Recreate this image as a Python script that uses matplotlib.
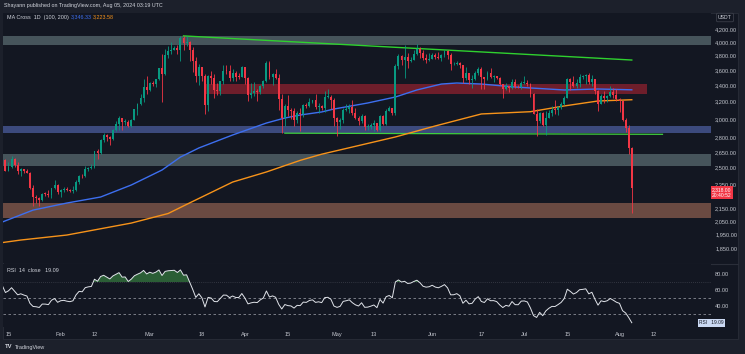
import numpy as np
import pandas as pd
import matplotlib
matplotlib.use("Agg")
import matplotlib.pyplot as plt
from matplotlib.patches import Rectangle
from matplotlib.lines import Line2D
from matplotlib.ticker import FixedLocator, FixedFormatter, NullLocator
from matplotlib.transforms import blended_transform_factory

plt.rcParams['font.family'] = ['Liberation Sans', 'DejaVu Sans']

# ---------------- data (ETH/USDT daily) ----------------
START = '2024-01-13'
warmup_closes = [2315, 2220, 2228, 2197, 2218, 2177, 2201, 2240, 2326, 2317, 2272, 2267,
                 2232, 2379, 2346, 2300, 2293, 2281, 2352, 2355, 2210, 2268, 2269, 2240,
                 2222, 2330, 2344, 2585, 2618, 2524]

closes = [
    # Jan 13-31
    2577, 2472, 2511, 2587, 2529, 2468, 2490, 2469, 2453, 2314, 2242, 2235, 2218, 2268, 2267, 2257, 2318, 2343, 2282,
    # Feb
    2304, 2309, 2297, 2290, 2300, 2373, 2425, 2420, 2486, 2500, 2507, 2660, 2640, 2778, 2822, 2803, 2785, 2880, 2945,
    3014, 2966, 2972, 2923, 2992, 3112, 3177, 3243, 3384, 3340,
    # Mar
    3434, 3420, 3487, 3628, 3552, 3817, 3868, 3890, 3908, 3877, 4066, 3983, 4006, 3883, 3733, 3524, 3644, 3520, 3160,
    3518, 3492, 3338, 3330, 3452, 3592, 3588, 3500, 3561, 3512, 3508, 3648,
    # Apr
    3503, 3279, 3311, 3330, 3318, 3395, 3452, 3697, 3505, 3546, 3502, 3235, 3006, 3153, 3101, 3086, 2985, 3066, 3054,
    3157, 3147, 3201, 3219, 3140, 3155, 3130, 3255, 3263, 3215, 3014,
    # May
    2969, 2990, 3102, 3117, 3137, 3064, 3006, 2974, 3036, 2910, 2913, 2930, 2950, 2882, 3036, 2946, 3093, 3122, 3071,
    3662, 3790, 3738, 3779, 3728, 3747, 3826, 3893, 3842, 3766, 3746, 3761,
    # Jun
    3814, 3780, 3767, 3810, 3866, 3812, 3678, 3680, 3705, 3666, 3498, 3561, 3469, 3480, 3566, 3620, 3508, 3482, 3559,
    3515, 3517, 3496, 3420, 3355, 3390, 3371, 3447, 3379, 3377, 3435,
    # Jul
    3438, 3419, 3294, 3058, 2982, 3064, 2931, 3016, 3067, 3103, 3100, 3135, 3175, 3250, 3490, 3444, 3388, 3428, 3509,
    3518, 3534, 3442, 3481, 3335, 3175, 3274, 3250, 3270, 3320, 3279, 3232,
    # Aug 1-5
    3205, 2988, 2902, 2688, 2318]

highs = [
    2615, 2585, 2550, 2615, 2590, 2555, 2495, 2490, 2485, 2465, 2345, 2260, 2245, 2275, 2280, 2300, 2320, 2390, 2350,
    2310, 2330, 2325, 2310, 2335, 2390, 2430, 2445, 2520, 2510, 2535, 2665, 2685, 2785, 2850, 2835, 2815, 2890, 2980,
    3030, 3015, 3000, 2990, 3005, 3115, 3185, 3290, 3485, 3520,
    3450, 3455, 3490, 3635, 3825, 3900, 3940, 3995, 3945, 3960, 4090, 4093, 4085, 4010, 3930, 3785, 3680, 3615, 3545,
    3530, 3590, 3545, 3435, 3460, 3665, 3675, 3665, 3610, 3595, 3565, 3655,
    3650, 3510, 3435, 3445, 3350, 3405, 3465, 3730, 3720, 3560, 3615, 3550, 3290, 3170, 3280, 3125, 3125, 3095, 3125,
    3170, 3185, 3240, 3225, 3290, 3185, 3165, 3325, 3355, 3280, 3250,
    3020, 3015, 3125, 3170, 3170, 3220, 3130, 3035, 3055, 3050, 2940, 2955, 2990, 2960, 3040, 3040, 3120, 3145, 3130,
    3690, 3830, 3815, 3950, 3835, 3780, 3885, 3975, 3925, 3880, 3825, 3845,
    3835, 3840, 3850, 3830, 3885, 3880, 3840, 3715, 3720, 3715, 3675, 3650, 3565, 3530, 3585, 3650, 3645, 3515, 3585,
    3630, 3535, 3525, 3515, 3425, 3430, 3395, 3480, 3490, 3405, 3455,
    3525, 3465, 3430, 3310, 3115, 3085, 3080, 3090, 3105, 3155, 3220, 3150, 3200, 3270, 3500, 3500, 3520, 3490, 3545,
    3535, 3545, 3560, 3540, 3490, 3340, 3290, 3330, 3280, 3400, 3370, 3350,
    3250, 3220, 3015, 2935, 2700]

lows = [
    2505, 2470, 2470, 2495, 2510, 2440, 2420, 2455, 2450, 2305, 2165, 2195, 2170, 2210, 2250, 2245, 2230, 2310, 2265,
    2245, 2285, 2290, 2280, 2275, 2295, 2355, 2405, 2415, 2470, 2490, 2495, 2585, 2635, 2755, 2765, 2725, 2770, 2870,
    2880, 2880, 2935, 2910, 2915, 2985, 3050, 3165, 3200, 3300,
    3330, 3395, 3380, 3470, 3200, 3540, 3765, 3830, 3880, 3830, 3725, 3880, 3940, 3720, 3570, 3440, 3410, 3460, 3060,
    3095, 3420, 3250, 3285, 3285, 3420, 3550, 3460, 3460, 3455, 3490, 3505,
    3420, 3210, 3245, 3275, 3210, 3300, 3370, 3450, 3480, 3410, 3480, 3100, 2850, 2925, 3030, 2995, 2920, 2955, 2870,
    3025, 3125, 3135, 3180, 3120, 3070, 3100, 3075, 3245, 3115, 2920,
    2815, 2890, 2960, 3095, 3070, 3045, 3000, 2935, 2955, 2880, 2880, 2895, 2870, 2865, 2865, 2930, 2930, 3090, 3050,
    3045, 3620, 3665, 3500, 3630, 3710, 3740, 3815, 3770, 3740, 3700, 3720,
    3750, 3755, 3755, 3730, 3780, 3760, 3600, 3665, 3670, 3630, 3430, 3465, 3425, 3365, 3475, 3535, 3360, 3360, 3470,
    3495, 3445, 3480, 3410, 3240, 3345, 3315, 3355, 3370, 3370, 3360,
    3425, 3400, 3260, 3055, 2810, 2960, 2925, 2825, 3010, 3035, 3055, 3050, 3120, 3160, 3240, 3345, 3380, 3370, 3375,
    3480, 3420, 3420, 3390, 3300, 3090, 3170, 3190, 3200, 3260, 3250, 3210,
    3085, 2975, 2860, 2630, 2111]

ma100_dates = ['2024-01-13', '2024-01-23', '2024-02-03', '2024-02-14', '2024-02-24', '2024-03-05', '2024-03-11',
               '2024-03-17', '2024-03-28', '2024-04-08', '2024-04-14', '2024-04-19', '2024-04-26', '2024-04-30',
               '2024-05-11', '2024-05-20', '2024-05-27', '2024-06-04', '2024-06-09', '2024-06-17', '2024-06-28',
               '2024-07-03', '2024-07-14', '2024-07-25', '2024-08-05']
ma100_vals = [2041, 2134, 2191, 2241, 2344, 2479, 2602, 2692, 2826, 2955, 3011, 3045, 3080, 3114,
              3185, 3257, 3344, 3419, 3432, 3419, 3381, 3369, 3344, 3356, 3346]

ma200_dates = ['2024-01-13', '2024-01-19', '2024-02-03', '2024-02-24', '2024-03-07', '2024-03-14', '2024-03-28',
               '2024-04-08', '2024-04-19', '2024-04-26', '2024-05-20', '2024-06-02', '2024-06-17', '2024-07-03',
               '2024-07-14', '2024-07-25', '2024-08-05']
ma200_vals = [1890, 1908, 1944, 2033, 2107, 2192, 2370, 2461, 2570, 2630, 2805, 2923, 3057, 3083,
              3150, 3209, 3224]

# support / resistance zones (price ranges)
zone_top = (3955, 4093)
zone_supply = (3294, 3420)
zone_supply_dates = ('2024-03-19', '2024-08-10')
zone_blue = (2846, 2922)
zone_gray = (2516, 2631)
zone_brown = (2071, 2191)
trend_upper_dates = ['2024-03-12', '2024-08-05']
trend_upper_prices = [4093, 3740]
support_dates = ['2024-04-14', '2024-08-15']
support_prices = [2845, 2833]

price_ticks = [4200, 4000, 3800, 3600, 3400, 3200, 3000, 2800, 2650, 2500, 2350, 2150, 2050, 1950, 1850, 1750]
time_tick_dates = ['2024-01-15', '2024-02-01', '2024-02-12', '2024-03-01', '2024-03-18', '2024-04-01',
                   '2024-04-15', '2024-05-01', '2024-05-13', '2024-06-01', '2024-06-17', '2024-07-01',
                   '2024-07-15', '2024-08-01', '2024-08-12']
time_tick_labels = ['15', 'Feb', '12', 'Mar', '18', 'Apr', '15', 'May', '13', 'Jun', '17', 'Jul', '15', 'Aug', '12']

# ---------------- helpers ----------------
BASE = pd.Timestamp('2024-01-15')


def day(d):
    return (pd.Timestamp(d) - BASE) / pd.Timedelta(days=1)


W, H = 745, 354
BG = '#131722'
TXT = '#c3c6ce'
GREEN = '#089981'
RED = '#f23645'


def fx(x):
    return x / W


def fy(y):
    return 1 - y / H


fig = plt.figure(figsize=(W / 100, H / 100), dpi=100, facecolor='#1c202b')
fig.patches.append(Rectangle((fx(3), fy(339)), fx(735), (339 - 13) / H, transform=fig.transFigure,
                             facecolor=BG, edgecolor='#2a2e39', lw=0.6, zorder=-10))

ax = fig.add_axes([fx(3), fy(263), fx(708), (263 - 13) / H])
rax = fig.add_axes([fx(3), fy(327), fx(708), (327 - 264) / H])
for a in (ax, rax):
    a.set_facecolor(BG)
    a.set_zorder(2)
    for s in a.spines.values():
        s.set_visible(False)

fig.add_artist(Line2D([fx(3), fx(738)], [fy(263.5), fy(263.5)], transform=fig.transFigure,
                      color='#2a2e39', lw=0.8, zorder=1))

# ---------------- main price pane ----------------
n = len(closes)
x = day(START) + np.arange(n)
c = np.array(closes, float)
o = np.concatenate([[warmup_closes[-1]], c[:-1]])
h = np.maximum(np.array(highs, float), np.maximum(o, c))
l = np.minimum(np.array(lows, float), np.minimum(o, c))
up = c >= o
cols = np.where(up, GREEN, RED)

ax.set_yscale('log')
ax.set_ylim(1751, 4459)
ax.set_xlim(-1.79, 228.8)

ax.axhspan(*zone_top, color='#46545b', lw=0, zorder=1)
ax.axhspan(*zone_blue, color='#3c4a7d', lw=0, zorder=1)
ax.axhspan(*zone_gray, color='#46545b', lw=0, zorder=1)
ax.axhspan(*zone_brown, color='#6a4a42', lw=0, zorder=1)
ax.fill_between([day(zone_supply_dates[0]), day(zone_supply_dates[1])], zone_supply[0], zone_supply[1],
                color='#6e1e2b', lw=0, zorder=1)

ax.plot([day(d) for d in trend_upper_dates], trend_upper_prices, color='#2fd12f', lw=1.0, zorder=3)
ax.plot([day(d) for d in support_dates], support_prices, color='#3fcf3f', lw=0.9, zorder=3)

ax.plot([day(d) for d in ma200_dates], ma200_vals, color='#f7931a', lw=1.0, zorder=4)
ax.plot([day(d) for d in ma100_dates], ma100_vals, color='#3d6ff0', lw=1.0, zorder=4)

ax.vlines(x, l, h, colors=cols, lw=0.6, zorder=5)
body_h = np.maximum(np.abs(c - o), 0.003 * c)
ax.bar(x, body_h, bottom=np.minimum(o, c), width=0.62, color=cols, lw=0, zorder=6)

ax.yaxis.tick_right()
ax.yaxis.set_major_locator(FixedLocator(price_ticks))
ax.yaxis.set_major_formatter(FixedFormatter([f"{p:,.2f}" for p in price_ticks]))
ax.yaxis.set_minor_locator(NullLocator())
ax.tick_params(axis='y', which='both', length=0, pad=3, labelsize=4.1, labelcolor=TXT)
ax.set_xticks([])

# current price label
ax.annotate(f"{c[-1]:,.2f}\n20:40:52", xy=(1.0015, c[-1]),
            xycoords=blended_transform_factory(ax.transAxes, ax.transData),
            xytext=(0, -3.4), textcoords='offset points', ha='left', va='center', fontsize=3.6, color='white',
            linespacing=1.1,
            bbox=dict(boxstyle='square,pad=0.3', facecolor=RED, edgecolor='none'), annotation_clip=False, zorder=10)

# ---------------- RSI pane ----------------
allc = pd.Series(list(warmup_closes) + list(closes), dtype=float)
diff = allc.diff().fillna(0)
gain = diff.clip(lower=0).ewm(alpha=1 / 14, adjust=False).mean()
loss = (-diff.clip(upper=0)).ewm(alpha=1 / 14, adjust=False).mean()
rsi_all = 100 - 100 / (1 + gain / loss)
rsi = rsi_all.iloc[len(warmup_closes):].to_numpy()

rax.set_xlim(-1.79, 228.8)
rax.set_ylim(13.75, 92.5)
rax.axhline(70, color='#787b86', lw=0.5, ls=(0, (1, 2)), alpha=0.6)
rax.axhline(50, color='#8a8d96', lw=0.6, ls=(0, (3, 3)))
rax.axhline(30, color='#8a8d96', lw=0.6, ls=(0, (3, 3)))
rax.fill_between(x, rsi, 70, where=rsi >= 70, interpolate=True, color='#2b5e36', lw=0, zorder=2)
rax.plot(x, rsi, color='#e1e4ea', lw=0.7, zorder=3)

rax.yaxis.tick_right()
rax.set_yticks([40, 60, 80])
rax.set_yticklabels(['40.00', '60.00', '80.00'])
rax.set_xticks([day(d) for d in time_tick_dates])
rax.set_xticklabels(time_tick_labels)
rax.tick_params(axis='both', length=0, labelsize=4.1, labelcolor=TXT)
rax.tick_params(axis='y', pad=3)
rax.tick_params(axis='x', pad=3.5)

rax.text((699 - 3) / 708, rsi[-1], f"RSI   {rsi[-1]:.2f}",
         transform=blended_transform_factory(rax.transAxes, rax.transData),
         ha='left', va='center', fontsize=3.5, color='#131722',
         bbox=dict(boxstyle='square,pad=0.3', facecolor='#cbd9f3', edgecolor='none'), clip_on=False, zorder=10)

# ---------------- texts ----------------
fig.text(fx(4), fy(6), "Shayann published on TradingView.com, Aug 05, 2024 03:19 UTC", fontsize=3.9,
         color='#d1d4dc', va='center', ha='left')
fig.text(fx(7), fy(17), "MA Cross  1D  (100, 200)", fontsize=3.9, color='#d1d4dc', va='center', ha='left')
fig.text(fx(71), fy(17), "3,346.33", fontsize=3.9, color='#3d6ff0', va='center', ha='left')
fig.text(fx(93), fy(17), "3,223.58", fontsize=3.9, color='#f7931a', va='center', ha='left')
fig.text(fx(7), fy(270), f"RSI  14  close   {rsi[-1]:.2f}", fontsize=3.9, color='#d1d4dc', va='center', ha='left')
fig.text(fx(725), fy(17.5), "USDT", fontsize=3.7, color='#d1d4dc', va='center', ha='center',
         bbox=dict(boxstyle='round,pad=0.35,rounding_size=0.3', facecolor=BG, edgecolor='#434651', lw=0.5))
fig.text(fx(5), fy(347), "TV", fontsize=4.2, color='#d1d4dc', va='center', ha='left', fontweight='bold')
fig.text(fx(15), fy(347), "TradingView", fontsize=4.0, color='#d1d4dc', va='center', ha='left')

fig.savefig('out.png', dpi=100, facecolor=fig.get_facecolor())
